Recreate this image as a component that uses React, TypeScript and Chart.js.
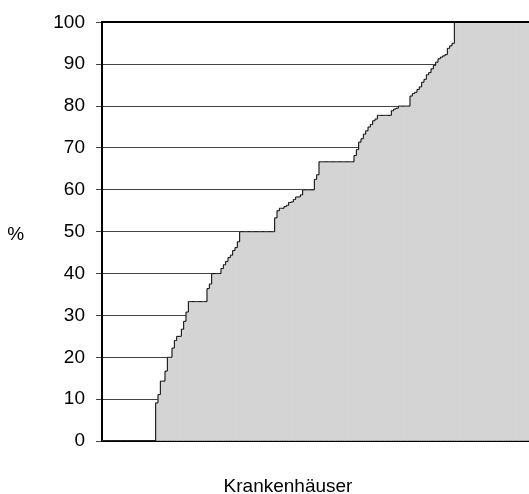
import React, { useEffect, useRef } from "react";
import { Chart, registerables } from "chart.js";

Chart.register(...registerables);

// Share (%) per hospital, sorted ascending
const shareValues: number[] = [
  0, 0, 0, 0, 0, 0, 0, 0, 0, 0, 0, 0, 0, 0, 0, 0, 0, 0, 0, 0, 0, 0, 0,
  9.1, 11.1, 14.3, 14.3, 16.7, 20, 20, 22.2, 24, 25, 25, 26.7, 28.6, 30.8,
  33.3, 33.3, 33.3, 33.3, 33.3, 33.3, 33.3, 33.3,
  36.4, 37.5, 40, 40, 40, 40,
  41.2, 42.1, 42.9, 43.8, 44.4, 45.5, 46.2, 47.6,
  50, 50, 50, 50, 50, 50, 50, 50, 50, 50, 50, 50, 50, 50, 50,
  53.3, 55, 55.6, 55.6, 56, 56.3, 57, 57.1, 57.7, 58.3, 58.3, 58.8,
  60, 60, 60, 60, 60,
  62.5, 63.6,
  66.7, 66.7, 66.7, 66.7, 66.7, 66.7, 66.7, 66.7, 66.7, 66.7, 66.7, 66.7, 66.7, 66.7, 66.7,
  68.2, 69.6, 71.4, 72.2, 73.3, 74.1, 75, 75.6, 76.5, 76.9,
  77.8, 77.8, 77.8, 77.8, 77.8, 77.8,
  78.9, 79.3, 79.5,
  80, 80, 80, 80, 80,
  82.4, 83, 83.3, 84, 84.6, 85.7, 86.4, 87.5, 88, 88.9, 89.7, 90.5, 91.3, 91.7, 92, 92.3, 93.8, 94.4, 95,
  100, 100, 100, 100, 100, 100, 100, 100, 100, 100, 100, 100, 100, 100, 100, 100,
  100, 100, 100, 100, 100, 100, 100, 100, 100, 100, 100, 100, 100, 100, 100, 100,
];

const hospitalLabels: string[] = shareValues.map((_, i) => String(i + 1));

const yTicks: number[] = [0, 10, 20, 30, 40, 50, 60, 70, 80, 90, 100];
const yAxisTitle = "%";
const xAxisTitle = "Krankenhäuser";

const FONT_FAMILY = 'Arial, "Liberation Sans", sans-serif';

export default function App() {
  const canvasRef = useRef<HTMLCanvasElement | null>(null);

  useEffect(() => {
    const canvas = canvasRef.current;
    if (!canvas) return;

    const textPlugin = {
      id: "axisTexts",
      afterDatasetsDraw(chart: any) {
        const { ctx, chartArea } = chart;
        ctx.save();
        ctx.strokeStyle = "#000";
        ctx.lineWidth = 2;
        ctx.beginPath();
        ctx.moveTo(chartArea.left - 1, Math.round(chartArea.top));
        ctx.lineTo(chartArea.right, Math.round(chartArea.top));
        ctx.stroke();
        ctx.restore();
      },
      afterDraw(chart: any) {
        const { ctx } = chart;
        ctx.save();
        ctx.fillStyle = "#000";
        ctx.font = `19px ${FONT_FAMILY}`;
        ctx.textAlign = "center";
        ctx.textBaseline = "alphabetic";
        ctx.fillText(yAxisTitle, 15.7, 239.5);
        ctx.fillText(xAxisTitle, 288, 492);
        ctx.restore();
      },
    };

    const chart = new Chart(canvas, {
      type: "bar",
      data: {
        labels: hospitalLabels,
        datasets: [
          {
            type: "line",
            data: shareValues,
            borderColor: "#000",
            borderWidth: 1,
            pointRadius: 0,
            stepped: "middle",
            fill: false,
            order: 0,
          } as any,
          {
            type: "bar",
            data: shareValues,
            backgroundColor: "#d4d4d4",
            borderWidth: 0,
            barPercentage: 1,
            categoryPercentage: 1,
            order: 1,
          },
        ],
      },
      options: {
        responsive: false,
        animation: false,
        layout: { padding: { top: 21, left: 0, right: 0, bottom: 0 } },
        plugins: {
          legend: { display: false },
          tooltip: { enabled: false },
        },
        scales: {
          x: {
            offset: true,
            ticks: { display: false },
            grid: { display: true, drawOnChartArea: false, drawTicks: false },
            border: { display: true, color: "#000", width: 2 },
            afterFit: (scale: any) => {
              scale.height = 53;
            },
          },
          y: {
            min: 0,
            max: 100,
            afterBuildTicks: (scale: any) => {
              scale.ticks = yTicks.map((v) => ({ value: v }));
            },
            ticks: {
              color: "#000",
              padding: 11,
              font: { family: FONT_FAMILY, size: 19 },
            },
            grid: {
              color: "#444",
              lineWidth: 1,
              tickLength: 6,
              drawTicks: true,
            },
            border: { display: true, color: "#000", width: 2 },
            afterFit: (scale: any) => {
              scale.width = 102;
            },
          },
        },
      },
      plugins: [textPlugin],
    });

    return () => chart.destroy();
  }, []);

  return (
    <div style={{ position: "absolute", left: 0, top: 0, width: 529, height: 494, background: "#fff" }}>
      <canvas ref={canvasRef} width={529} height={494} style={{ display: "block" }} />
    </div>
  );
}
